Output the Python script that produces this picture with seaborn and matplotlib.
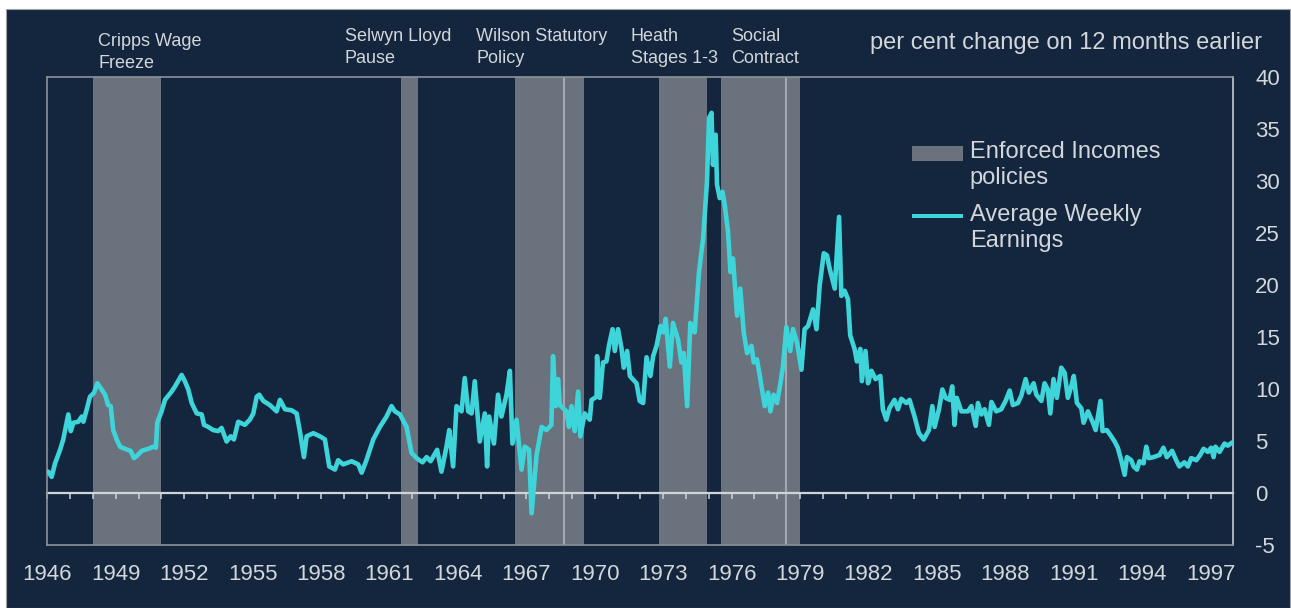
import matplotlib
matplotlib.use("Agg")
import matplotlib.pyplot as plt
from matplotlib.patches import Patch, Rectangle
from matplotlib.legend_handler import HandlerPatch
import pandas as pd
import seaborn as sns

# Average weekly earnings, per cent change on 12 months earlier
years = [
    1946.04, 1946.19, 1946.34, 1946.56, 1946.70, 1946.92, 1947.03, 1947.14, 1947.36, 1947.51,
    1947.58, 1947.73, 1947.87, 1948.05, 1948.19, 1948.38, 1948.53, 1948.67, 1948.78, 1948.89,
    1949.04, 1949.19, 1949.40, 1949.65, 1949.80, 1949.92, 1950.14, 1950.43, 1950.65, 1950.76,
    1950.82, 1951.01, 1951.16, 1951.45, 1951.60, 1951.89, 1952.03, 1952.18, 1952.33, 1952.55,
    1952.77, 1952.87, 1953.06, 1953.27, 1953.49, 1953.64, 1953.86, 1954.04, 1954.18, 1954.37,
    1954.66, 1954.88, 1955.03, 1955.18, 1955.29, 1955.47, 1955.76, 1956.05, 1956.20, 1956.42,
    1956.71, 1956.93, 1957.07, 1957.25, 1957.37, 1957.66, 1957.95, 1958.17, 1958.36, 1958.61,
    1958.75, 1958.97, 1959.34, 1959.63, 1959.78, 1959.99, 1960.29, 1960.58, 1960.87, 1961.09,
    1961.24, 1961.46, 1961.75, 1961.97, 1962.19, 1962.45, 1962.63, 1962.80, 1963.09, 1963.28,
    1963.50, 1963.62, 1963.79, 1963.94, 1964.16, 1964.30, 1964.45, 1964.60, 1964.74, 1964.96,
    1965.18, 1965.28, 1965.37, 1965.58, 1965.76, 1965.91, 1966.13, 1966.28, 1966.39, 1966.57,
    1966.79, 1966.93, 1967.12, 1967.23, 1967.45, 1967.67, 1967.88, 1968.10, 1968.17, 1968.29,
    1968.39, 1968.47, 1968.76, 1968.87, 1968.98, 1969.12, 1969.27, 1969.37, 1969.56, 1969.78,
    1969.86, 1970.08, 1970.10, 1970.22, 1970.36, 1970.51, 1970.63, 1970.78, 1970.88, 1971.02,
    1971.17, 1971.27, 1971.42, 1971.54, 1971.83, 1971.97, 1972.12, 1972.27, 1972.44, 1972.56,
    1972.71, 1972.88, 1973.00, 1973.11, 1973.29, 1973.43, 1973.65, 1973.80, 1973.90, 1974.05,
    1974.19, 1974.38, 1974.57, 1974.75, 1974.92, 1975.01, 1975.12, 1975.18, 1975.30, 1975.36,
    1975.48, 1975.60, 1975.70, 1975.84, 1975.95, 1976.06, 1976.24, 1976.38, 1976.53, 1976.68,
    1976.87, 1976.97, 1977.11, 1977.26, 1977.45, 1977.60, 1977.70, 1977.84, 1977.99, 1978.14,
    1978.25, 1978.40, 1978.57, 1978.69, 1978.87, 1979.06, 1979.20, 1979.35, 1979.57, 1979.72,
    1979.86, 1980.04, 1980.18, 1980.30, 1980.52, 1980.71, 1980.81, 1980.95, 1981.10, 1981.20,
    1981.39, 1981.49, 1981.64, 1981.71, 1981.87, 1981.98, 1982.13, 1982.31, 1982.52, 1982.63,
    1982.78, 1982.92, 1983.14, 1983.29, 1983.44, 1983.66, 1983.80, 1984.02, 1984.21, 1984.42,
    1984.65, 1984.80, 1984.90, 1985.09, 1985.24, 1985.38, 1985.56, 1985.67, 1985.77, 1985.87,
    1986.07, 1986.36, 1986.51, 1986.70, 1986.80, 1986.95, 1987.09, 1987.28, 1987.39, 1987.60,
    1987.82, 1988.01, 1988.19, 1988.33, 1988.55, 1988.70, 1988.89, 1989.03, 1989.24, 1989.36,
    1989.58, 1989.72, 1989.86, 1989.97, 1990.11, 1990.26, 1990.45, 1990.60, 1990.74, 1990.89,
    1991.00, 1991.14, 1991.33, 1991.43, 1991.62, 1991.84, 1991.96, 1992.17, 1992.26, 1992.45,
    1992.64, 1992.79, 1992.93, 1993.08, 1993.23, 1993.33, 1993.52, 1993.62, 1993.77, 1993.88,
    1994.06, 1994.18, 1994.29, 1994.50, 1994.76, 1994.93, 1995.08, 1995.31, 1995.49, 1995.63,
    1995.85, 1996.00, 1996.15, 1996.37, 1996.54, 1996.69, 1996.88, 1997.02, 1997.13, 1997.21,
    1997.39, 1997.61, 1997.75, 1997.94,
]
earnings = [
    2.1, 1.6, 2.9, 4.2, 5.2, 7.6, 6.0, 6.8, 6.9, 7.4,
    6.9, 8.1, 9.3, 9.7, 10.6, 10.0, 9.5, 8.5, 8.4, 6.1,
    5.2, 4.5, 4.3, 4.1, 3.4, 3.6, 4.1, 4.3, 4.5, 4.4,
    6.8, 7.9, 9.0, 9.8, 10.3, 11.4, 10.8, 10.0, 8.7, 7.7,
    7.6, 6.6, 6.4, 6.1, 6.0, 6.3, 5.0, 5.5, 5.2, 6.9,
    6.6, 7.1, 7.7, 9.3, 9.5, 8.9, 8.5, 7.9, 9.0, 8.1,
    8.0, 7.7, 6.0, 3.5, 5.5, 5.8, 5.5, 5.2, 2.6, 2.3,
    3.2, 2.8, 3.1, 2.8, 2.0, 3.2, 5.2, 6.4, 7.4, 8.4,
    7.9, 7.6, 6.4, 3.9, 3.4, 3.0, 3.5, 3.1, 4.2, 2.1,
    4.5, 6.1, 2.6, 8.4, 7.9, 11.1, 7.9, 7.7, 10.8, 5.0,
    7.7, 2.6, 7.4, 4.8, 9.5, 7.4, 9.5, 11.8, 4.8, 7.1,
    2.3, 4.5, 4.2, -1.9, 3.7, 6.4, 6.1, 6.6, 13.2, 8.4,
    11.0, 8.5, 7.9, 6.4, 8.4, 6.0, 9.8, 5.5, 7.7, 7.1,
    9.0, 9.3, 13.2, 9.2, 12.6, 12.7, 14.3, 15.8, 13.7, 15.8,
    14.0, 12.1, 13.7, 11.3, 10.6, 8.9, 8.7, 13.1, 11.3, 13.2,
    14.2, 16.1, 15.5, 16.8, 12.2, 16.4, 14.8, 12.6, 13.5, 8.4,
    16.4, 15.5, 21.3, 24.5, 30.0, 36.1, 36.6, 31.6, 34.5, 29.7,
    28.4, 29.0, 27.7, 25.2, 21.3, 22.6, 17.1, 19.7, 15.5, 13.5,
    14.2, 12.6, 12.9, 11.0, 8.4, 9.7, 7.9, 9.5, 8.7, 10.6,
    12.2, 16.0, 13.7, 15.8, 14.5, 11.9, 15.8, 16.1, 17.7, 15.8,
    20.0, 23.1, 22.9, 21.6, 19.7, 26.6, 19.0, 19.5, 18.7, 15.2,
    13.9, 12.7, 13.9, 10.8, 13.7, 10.6, 11.8, 11.0, 11.3, 8.1,
    7.1, 8.2, 9.0, 8.1, 9.1, 8.7, 9.0, 7.4, 5.8, 5.2,
    6.1, 8.4, 6.4, 8.1, 10.0, 9.2, 9.0, 10.3, 6.6, 9.2,
    7.9, 7.9, 8.4, 6.5, 8.7, 7.6, 8.1, 6.6, 8.8, 7.9,
    8.1, 8.9, 9.9, 8.5, 8.7, 9.4, 11.0, 9.7, 10.6, 9.5,
    8.9, 10.6, 10.0, 7.7, 11.0, 9.2, 12.1, 11.6, 9.2, 10.3,
    11.3, 8.7, 8.2, 6.8, 7.9, 6.8, 6.1, 8.9, 6.0, 6.1,
    5.5, 5.0, 4.4, 3.2, 1.8, 3.5, 3.2, 2.6, 2.3, 3.1,
    2.9, 4.5, 3.4, 3.5, 3.7, 4.4, 3.5, 4.1, 3.2, 2.6,
    3.0, 2.6, 3.4, 3.2, 3.7, 4.3, 4.0, 4.4, 3.5, 4.5,
    4.0, 4.8, 4.6, 4.9,
]

# Enforced incomes policies
policy_names = ["Cripps Wage\nFreeze", "Selwyn Lloyd\nPause", "Wilson Statutory\nPolicy",
                "Heath\nStages 1-3", "Social\nContract"]
policy_start = [1948.0, 1961.5, 1966.5, 1972.8, 1975.55]
policy_end = [1951.0, 1962.25, 1969.55, 1974.9, 1979.0]
policy_breaks = [1968.65, 1978.37]

x_labels = list(range(1946, 1998, 3))
y_labels = list(range(-5, 41, 5))

NAVY = "#14263d"
SHADE = "#6a737d"
CYAN = "#3dd5da"
TEXT = "#d3d6db"

sns.set_style("dark")
plt.rcParams["font.family"] = ["Liberation Sans", "DejaVu Sans"]
plt.rcParams["axes.unicode_minus"] = False

df = pd.DataFrame({"year": years, "earnings": earnings})

fig = plt.figure(figsize=(12.91, 6.08), dpi=100, facecolor="white")
fig.patches.append(Rectangle((6 / 1291, 0), 1284 / 1291, 599 / 608,
                             transform=fig.transFigure, facecolor=NAVY,
                             edgecolor="#9aa0a6", linewidth=0.8, zorder=-10))
ax = fig.add_axes([0.03664, 0.1028, 0.91843, 0.76974])
ax.set_facecolor(NAVY)

for start, end in zip(policy_start, policy_end):
    ax.axvspan(start, end, color=SHADE, lw=0, zorder=1)
for b in policy_breaks:
    ax.axvline(b, color="#a4a9af", lw=1.5, zorder=1.2)

sns.lineplot(data=df, x="year", y="earnings", ax=ax, color=CYAN, lw=3.3, zorder=3)

ax.set_xlim(1946, 1997.98)
ax.set_ylim(-5, 40)
ax.set_xticks(x_labels)
ax.set_yticks(y_labels)
ax.yaxis.tick_right()
ax.tick_params(axis="x", length=0, pad=13, labelsize=16, labelcolor=TEXT)
ax.tick_params(axis="y", length=0, pad=16, labelsize=16, labelcolor=TEXT)
ax.set_xlabel("")
ax.set_ylabel("")
ax.grid(False)
for side in ["left", "top", "bottom"]:
    ax.spines[side].set_color("#8d9298")
    ax.spines[side].set_linewidth(1.2)
ax.spines["right"].set_color("#c5c9ce")
ax.spines["right"].set_linewidth(1.2)

# zero line with yearly ticks
zero_ax = ax.secondary_xaxis(0, transform=ax.transData)
zero_ax.set_xticks(range(1946, 1998))
zero_ax.tick_params(axis="x", length=4.5, width=1.1, color="#d0d3d7", labelbottom=False)
zero_ax.spines["bottom"].set_color("#d0d3d7")
zero_ax.spines["bottom"].set_linewidth(1.6)
zero_ax.set_zorder(2)


# legend handles sit on the first line of each two-line label
def box_on_first_line(legend, orig_handle, xdescent, ydescent, width, height, fontsize):
    return Rectangle((-xdescent, -ydescent + 0.5 * fontsize), width, height)


def line_on_first_line(legend, orig_handle, xdescent, ydescent, width, height, fontsize):
    return Rectangle((-xdescent, -ydescent + 0.5 * fontsize + height / 2 - 1.5), width, 3.0)


handles = [Patch(facecolor=SHADE, edgecolor="none"), Patch(facecolor=CYAN, edgecolor="none")]
leg = ax.legend(handles, ["Enforced Incomes\npolicies", "Average Weekly\nEarnings"],
                loc="upper left", bbox_to_anchor=(912 / 1291, 1 - 141 / 608),
                bbox_transform=fig.transFigure, frameon=False, fontsize=17,
                handlelength=2.15, handleheight=0.55, handletextpad=0.3,
                labelspacing=0.6, borderpad=0, borderaxespad=0,
                handler_map={handles[0]: HandlerPatch(patch_func=box_on_first_line),
                             handles[1]: HandlerPatch(patch_func=line_on_first_line)})
for t in leg.get_texts():
    t.set_color(TEXT)
    t.set_linespacing(1.26)

label_x = [98, 345, 476, 631, 731]
label_top = [32.6, 27.6, 27.6, 27.6, 27.6]
for name, lx, ly in zip(policy_names, label_x, label_top):
    fig.text(lx / 1291, 1 - ly / 608, name, ha="left", va="top", fontsize=13,
             color=TEXT, linespacing=1.39)

fig.text(1262 / 1291, 1 - 32.5 / 608, "per cent change on 12 months earlier",
         ha="right", va="top", fontsize=17, color=TEXT)

fig.savefig("out.png", dpi=100, facecolor=fig.get_facecolor())
